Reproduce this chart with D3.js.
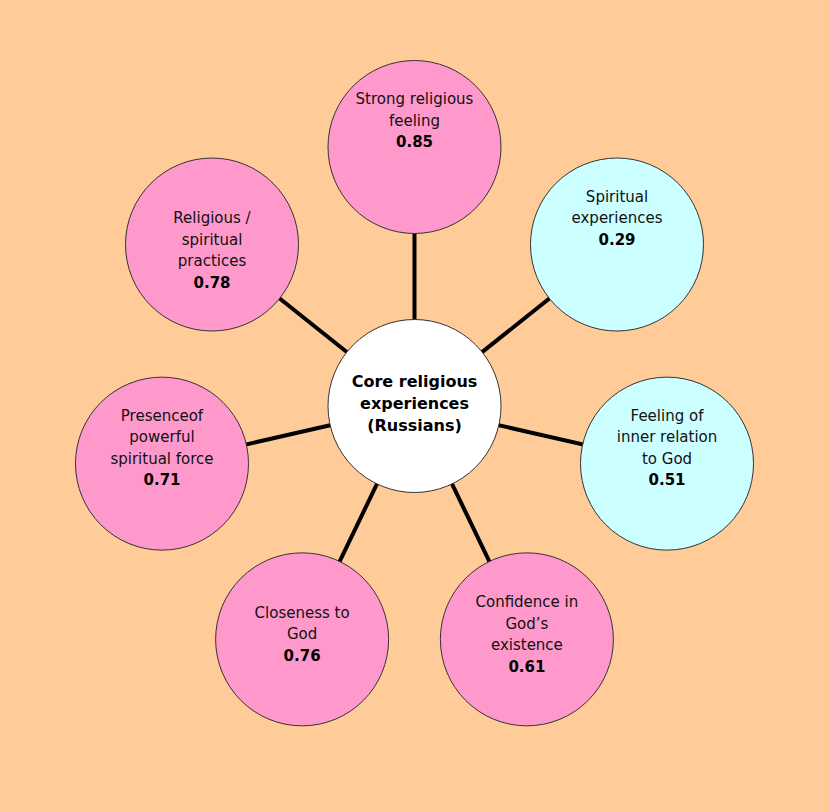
<!DOCTYPE html>
<html>
<head>
<meta charset="utf-8">
<script src="https://cdn.jsdelivr.net/npm/d3@7"></script>
<style>
  html, body { margin: 0; padding: 0; background: #ffcc99; }
  svg { display: block; }
</style>
</head>
<body>
<svg id="chart"></svg>
<script>
// hub
const hubLabel = ['Core religious', 'experiences', '(Russians)'];

// spokes, clockwise from the top
const categories = [
  'Strong religious feeling',
  'Spiritual experiences',
  'Feeling of inner relation to God',
  'Confidence in God\u2019s existence',
  'Closeness to God',
  'Presenceof powerful spiritual force',
  'Religious / spiritual practices',
];
// label lines as they were typed, blank lines included
const labelLines = [
  ['Strong religious', 'feeling'],
  ['Spiritual', 'experiences'],
  ['Feeling of', 'inner relation', 'to God'],
  ['Confidence in', 'God\u2019s', 'existence'],
  ['Closeness to', 'God'],
  ['Presenceof', 'powerful', 'spiritual force'],
  ['', 'Religious /', 'spiritual', 'practices'],
];
const values = [0.85, 0.29, 0.51, 0.61, 0.76, 0.71, 0.78];
const trailingBlanks = [2, 2, 1, 0, 0, 1, 0];

const WIDTH = 829;
const HEIGHT = 812;
const CX = 414.5;
const CY = 406;
const RING = 259;
const NODE_R = 86.5;
const LINE_H = 21.5;
const FONT = "'Century Gothic', 'DejaVu Sans', sans-serif";

const svg = d3.select('#chart').attr('width', WIDTH).attr('height', HEIGHT);

svg.append('rect')
  .attr('width', WIDTH)
  .attr('height', HEIGHT)
  .attr('fill', '#ffcc99');

const angle = d3.scaleLinear()
  .domain([0, categories.length])
  .range([0, 2 * Math.PI]);

const fill = d3.scaleThreshold()
  .domain([0.6])
  .range(['#ccffff', '#ff99cc']);

const nodes = categories.map((name, i) => {
  const a = angle(i);
  const lines = labelLines[i]
    .map(t => ({ text: t, bold: false }))
    .concat([{ text: values[i].toFixed(2), bold: true }])
    .concat(d3.range(trailingBlanks[i]).map(() => ({ text: '', bold: false })));
  return {
    name,
    value: values[i],
    x: CX + RING * Math.sin(a),
    y: CY - RING * Math.cos(a),
    lines,
  };
});

// spokes
svg.append('g')
  .selectAll('line')
  .data(nodes)
  .join('line')
  .attr('x1', CX)
  .attr('y1', CY)
  .attr('x2', d => d.x)
  .attr('y2', d => d.y)
  .attr('stroke', '#000')
  .attr('stroke-width', 4);

// outer circles
const node = svg.append('g')
  .selectAll('g')
  .data(nodes)
  .join('g')
  .attr('transform', d => `translate(${d.x},${d.y})`);

node.append('circle')
  .attr('r', NODE_R)
  .attr('fill', d => fill(d.value))
  .attr('stroke', '#333')
  .attr('stroke-width', 1);

node.append('text')
  .attr('text-anchor', 'middle')
  .attr('font-family', FONT)
  .attr('font-size', 15)
  .attr('fill', '#111')
  .selectAll('tspan')
  .data(d => d.lines.map((l, i) => ({ ...l, i, n: d.lines.length })))
  .join('tspan')
  .attr('x', 0)
  .attr('y', d => (d.i - (d.n - 1) / 2) * LINE_H)
  .attr('font-weight', d => (d.bold ? 'bold' : 'normal'))
  .attr('fill', d => (d.bold ? '#000' : '#111'))
  .text(d => d.text);

// hub
const hub = svg.append('g').attr('transform', `translate(${CX},${CY})`);

hub.append('circle')
  .attr('r', NODE_R)
  .attr('fill', '#fff')
  .attr('stroke', '#333')
  .attr('stroke-width', 1);

hub.append('text')
  .attr('text-anchor', 'middle')
  .attr('font-family', FONT)
  .attr('font-size', 16)
  .attr('font-weight', 'bold')
  .attr('fill', '#000')
  .selectAll('tspan')
  .data(hubLabel)
  .join('tspan')
  .attr('x', 0)
  .attr('y', (d, i) => 3 + (i - 1) * 22)
  .text(d => d);
</script>
</body>
</html>
